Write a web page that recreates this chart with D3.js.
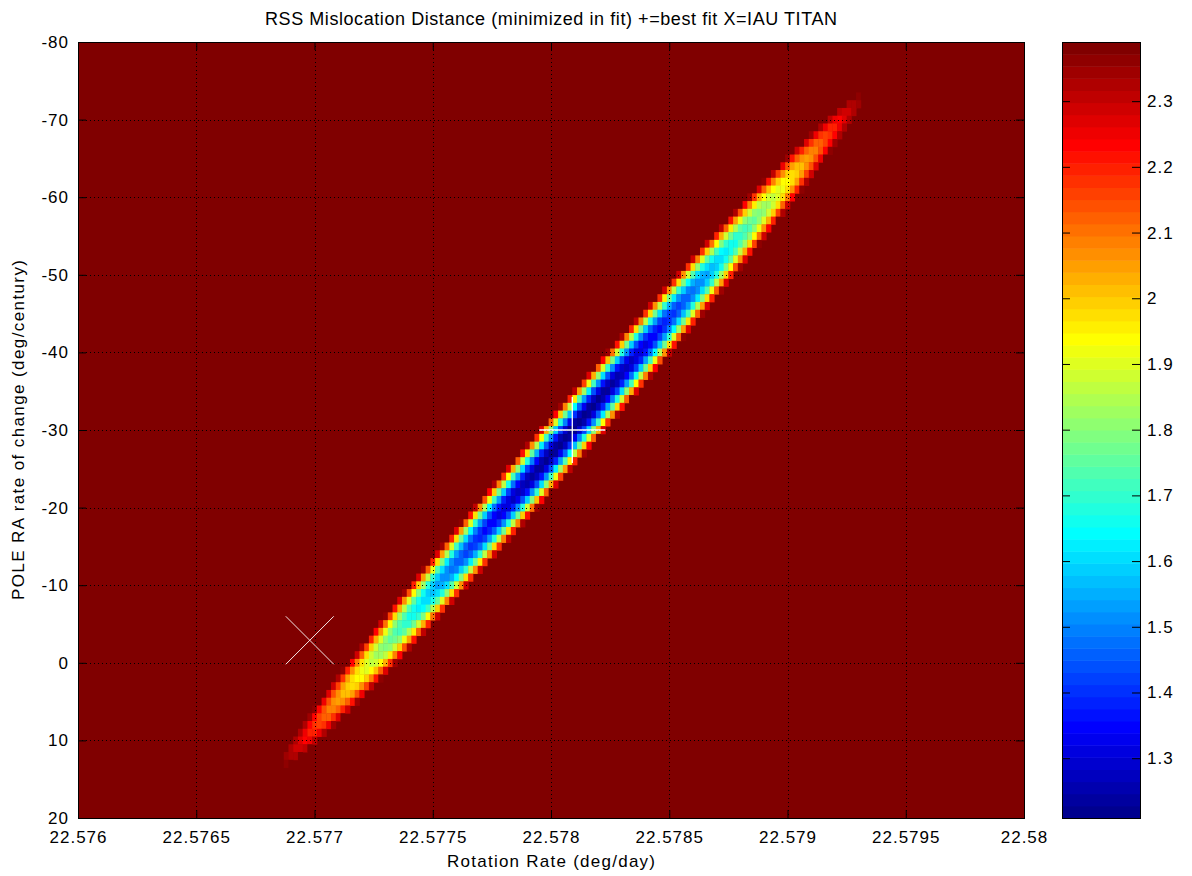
<!DOCTYPE html>
<html>
<head>
<meta charset="utf-8">
<script src="https://cdn.jsdelivr.net/npm/d3@7"></script>
<style>
    body { margin: 0; background: #fff; }
    text { font-family: "Liberation Sans", Arial, sans-serif; fill: #000; }
</style>
</head>
<body>
<script>
// Tick values and labels
var xTicks = [22.576, 22.5765, 22.577, 22.5775, 22.578, 22.5785, 22.579, 22.5795, 22.58];
var xTickLabels = ["22.576", "22.5765", "22.577", "22.5775", "22.578", "22.5785", "22.579", "22.5795", "22.58"];
var yTicks = [-80, -70, -60, -50, -40, -30, -20, -10, 0, 10, 20];
var yTickLabels = ["-80", "-70", "-60", "-50", "-40", "-30", "-20", "-10", "0", "10", "20"];
var cbarTicks = [1.3, 1.4, 1.5, 1.6, 1.7, 1.8, 1.9, 2.0, 2.1, 2.2, 2.3];
var cbarTickLabels = ["1.3", "1.4", "1.5", "1.6", "1.7", "1.8", "1.9", "2", "2.1", "2.2", "2.3"];

// Scan grid of the fit (rotation rate x pole RA rate)
var rateRange = [22.576, 22.58];
var rateStep = 0.00002;
var poleRange = [-80, 20];
var poleStep = 1;

// RSS surface: minimum at the best fit,
// long narrow valley, clipped at the top of the colour range
var bestFit = [22.57809, -30];
var iauTitan = [22.57698, -2.9];
var rssMin = 1.209;
var colorRange = [1.209, 2.390];
var valleySlope = -0.0000282;  // deg/day per deg/century along the valley
var alongCurv = 0.00222;       // growth of RSS^2 along the valley
var acrossCurv = 2.2e8;        // growth of RSS^2 across the valley

function rss(rate, pole) {
    var t = pole - bestFit[1];
    var s = rate - bestFit[0] - valleySlope * t;
    return Math.sqrt(rssMin * rssMin + alongCurv * t * t + acrossCurv * s * s);
}

// MATLAB jet(64)
function jet(n) {
    var m = n / 4;
    function u(k) {
        if (k < 1 || k > 3 * m - 1) return 0;
        if (k <= m) return k / m;
        if (k <= 2 * m - 1) return 1;
        return (3 * m - k) / m;
    }
    var colors = [];
    for (var i = 1; i <= n; i++) {
        var r = u(i - 24), g = u(i - 8), b = u(i + 8);
        colors.push(d3.rgb(r * 255, g * 255, b * 255).formatHex());
    }
    return colors;
}

window.onload = function() {

    var svgWidth = 1192;
    var svgHeight = 876;

    var plot = { left: 78, top: 42, right: 1024, bottom: 818 };
    var cbar = { left: 1062, right: 1140 };

    var palette = jet(64);

    var xScale = d3.scaleLinear().domain(rateRange).range([plot.left, plot.right]);
    var yScale = d3.scaleLinear().domain(poleRange).range([plot.top, plot.bottom]);
    var colorScale = d3.scaleQuantize().domain(colorRange).range(palette);
    var cbarScale = d3.scaleLinear().domain(colorRange).range([plot.bottom, plot.top]);

    const svg = d3.select("body").append("svg")
        .attr("width", svgWidth)
        .attr("height", svgHeight);

    svg.append("defs").append("clipPath")
        .attr("id", "plotclip")
        .append("rect")
        .attr("x", plot.left)
        .attr("y", plot.top)
        .attr("width", plot.right - plot.left)
        .attr("height", plot.bottom - plot.top);

    // Saturated background (top colour)
    svg.append("rect")
        .attr("x", plot.left)
        .attr("y", plot.top)
        .attr("width", plot.right - plot.left)
        .attr("height", plot.bottom - plot.top)
        .attr("fill", palette[palette.length - 1]);

    // Build the scan cells
    var rates = d3.range(0, Math.round((rateRange[1] - rateRange[0]) / rateStep) + 1)
        .map(function(i) { return rateRange[0] + i * rateStep; });
    var poles = d3.range(poleRange[0], poleRange[1] + poleStep / 2, poleStep);

    var cells = [];
    poles.forEach(function(p) {
        rates.forEach(function(r) {
            var v = rss(r, p);
            if (v < colorRange[1]) cells.push({ rate: r, pole: p, value: v });
        });
    });

    svg.append("g")
        .attr("clip-path", "url(#plotclip)")
        .selectAll("rect")
        .data(cells)
        .enter()
        .append("rect")
        .attr("x", function(d) { return xScale(d.rate - rateStep / 2); })
        .attr("y", function(d) { return yScale(d.pole - poleStep / 2); })
        .attr("width", xScale(rateRange[0] + rateStep) - xScale(rateRange[0]) + 0.4)
        .attr("height", yScale(poleRange[0] + poleStep) - yScale(poleRange[0]) + 0.4)
        .attr("fill", function(d) { return colorScale(d.value); });

    // Dotted grid
    var grid = svg.append("g")
        .attr("stroke", "#000")
        .attr("stroke-width", 1)
        .attr("stroke-dasharray", "1,3");

    grid.selectAll(".gx")
        .data(xTicks)
        .enter()
        .append("line")
        .attr("x1", function(d) { return Math.round(xScale(d)) + 0.5; })
        .attr("x2", function(d) { return Math.round(xScale(d)) + 0.5; })
        .attr("y1", plot.top)
        .attr("y2", plot.bottom);

    grid.selectAll(".gy")
        .data(yTicks)
        .enter()
        .append("line")
        .attr("y1", function(d) { return Math.round(yScale(d)) + 0.5; })
        .attr("y2", function(d) { return Math.round(yScale(d)) + 0.5; })
        .attr("x1", plot.left)
        .attr("x2", plot.right);

    // Markers: + best fit, X IAU Titan
    var bx = xScale(bestFit[0]), by = yScale(bestFit[1]);
    var plus = svg.append("g").attr("stroke", "#fff").attr("stroke-width", 1.3);
    plus.append("line").attr("x1", bx - 33).attr("x2", bx + 33).attr("y1", by).attr("y2", by);
    plus.append("line").attr("x1", bx).attr("x2", bx).attr("y1", by - 33).attr("y2", by + 33);

    var ix = xScale(iauTitan[0]), iy = yScale(iauTitan[1]);
    var cross = svg.append("g").attr("stroke", "#f4e6e6").attr("stroke-width", 1);
    cross.append("line").attr("x1", ix - 24).attr("x2", ix + 24).attr("y1", iy - 24).attr("y2", iy + 24);
    cross.append("line").attr("x1", ix - 24).attr("x2", ix + 24).attr("y1", iy + 24).attr("y2", iy - 24);

    // Axes: MATLAB style inward ticks on all four sides
    var axisG = svg.append("g");

    axisG.append("g")
        .attr("transform", `translate(0, ${plot.bottom})`)
        .call(d3.axisBottom(xScale).tickValues(xTicks).tickSizeInner(-8).tickSizeOuter(0)
            .tickFormat(function(d, i) { return xTickLabels[i]; }))
        .call(function(g) {
            g.selectAll("text").attr("dy", null).attr("y", 25)
                .style("font-size", "17px").style("letter-spacing", "1px")
                .style("font-family", "Liberation Sans, Arial, sans-serif");
        });

    axisG.append("g")
        .attr("transform", `translate(0, ${plot.top})`)
        .call(d3.axisTop(xScale).tickValues(xTicks).tickSizeInner(-8).tickSizeOuter(0).tickFormat(""));

    axisG.append("g")
        .attr("transform", `translate(${plot.left}, 0)`)
        .call(d3.axisLeft(yScale).tickValues(yTicks).tickSizeInner(-8).tickSizeOuter(0)
            .tickFormat(function(d, i) { return yTickLabels[i]; }))
        .call(function(g) {
            g.selectAll("text").attr("x", -9)
                .style("font-size", "17px").style("letter-spacing", "1px")
                .style("font-family", "Liberation Sans, Arial, sans-serif");
        });

    axisG.append("g")
        .attr("transform", `translate(${plot.right}, 0)`)
        .call(d3.axisRight(yScale).tickValues(yTicks).tickSizeInner(-8).tickSizeOuter(0).tickFormat(""));

    axisG.selectAll(".domain").remove();
    axisG.selectAll("line").attr("stroke", "#000");

    svg.append("rect")
        .attr("x", plot.left + 0.5)
        .attr("y", plot.top + 0.5)
        .attr("width", plot.right - plot.left)
        .attr("height", plot.bottom - plot.top)
        .attr("fill", "none")
        .attr("stroke", "#000");

    // Title and labels
    svg.append("text")
        .attr("x", (plot.left + plot.right) / 2)
        .attr("y", 25)
        .attr("text-anchor", "middle")
        .attr("textLength", 572)
        .attr("lengthAdjust", "spacing")
        .style("font-size", "18px")
        .text("RSS Mislocation Distance (minimized in fit) +=best fit X=IAU TITAN");

    svg.append("text")
        .attr("x", (plot.left + plot.right) / 2)
        .attr("y", 867)
        .attr("text-anchor", "middle")
        .attr("textLength", 208)
        .attr("lengthAdjust", "spacing")
        .style("font-size", "17px")
        .text("Rotation Rate (deg/day)");

    svg.append("text")
        .attr("transform", `translate(24, ${(plot.top + plot.bottom) / 2}) rotate(270)`)
        .attr("text-anchor", "middle")
        .attr("textLength", 340)
        .attr("lengthAdjust", "spacing")
        .style("font-size", "17px")
        .text("POLE RA rate of change (deg/century)");

    // Colour bar
    var bandH = (plot.bottom - plot.top) / palette.length;
    svg.append("g")
        .selectAll("rect")
        .data(palette)
        .enter()
        .append("rect")
        .attr("x", cbar.left)
        .attr("width", cbar.right - cbar.left)
        .attr("y", function(d, i) { return plot.bottom - (i + 1) * bandH; })
        .attr("height", bandH + 0.5)
        .attr("fill", function(d) { return d; });

    var cbarAxis = svg.append("g");
    cbarAxis.append("g")
        .attr("transform", `translate(${cbar.right}, 0)`)
        .call(d3.axisRight(cbarScale).tickValues(cbarTicks).tickSizeInner(-8).tickSizeOuter(0)
            .tickFormat(function(d, i) { return cbarTickLabels[i]; }))
        .call(function(g) {
            g.selectAll("text").attr("x", 7)
                .style("font-size", "17px").style("letter-spacing", "1px")
                .style("font-family", "Liberation Sans, Arial, sans-serif");
        });
    cbarAxis.append("g")
        .attr("transform", `translate(${cbar.left}, 0)`)
        .call(d3.axisLeft(cbarScale).tickValues(cbarTicks).tickSizeInner(-8).tickSizeOuter(0).tickFormat(""));
    cbarAxis.selectAll(".domain").remove();
    cbarAxis.selectAll("line").attr("stroke", "#000");

    svg.append("rect")
        .attr("x", cbar.left + 0.5)
        .attr("y", plot.top + 0.5)
        .attr("width", cbar.right - cbar.left)
        .attr("height", plot.bottom - plot.top)
        .attr("fill", "none")
        .attr("stroke", "#000");
};
</script>
</body>
</html>
